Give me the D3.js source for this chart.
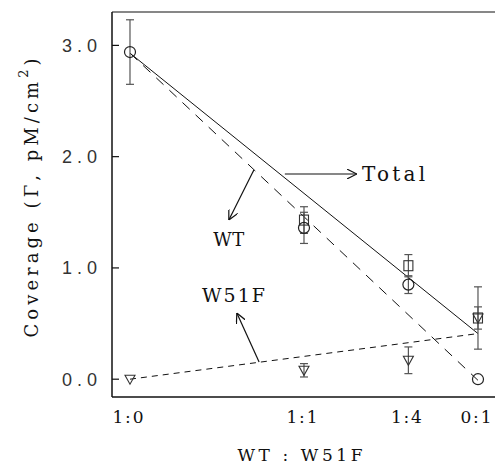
<!DOCTYPE html>
<html>
<head>
<meta charset="utf-8">
<script src="https://cdn.jsdelivr.net/npm/d3@7"></script>
<style>
  body { margin: 0; background: #fff; }
  svg { display: block; }
</style>
</head>
<body>
<div id="vis"></div>
<script>
// mixing ratios WT : W51F and the W51F fraction used for the x position
var ratios = ["1:0", "1:1", "1:4", "0:1"],
    fractions = [0, 0.5, 0.8, 1];

// measured coverage (pM/cm2) with error bars, null = not drawn
var totalVals = [null, 1.43, 1.02, 0.55],
    totalErr  = [null, 0.12, 0.10, 0.28],
    wtVals    = [2.94, 1.36, 0.85, 0.0],
    wtErr     = [0.29, 0.14, 0.08, null],
    w51fVals  = [0.0, 0.08, 0.17, 0.55],
    w51fErr   = [null, 0.06, 0.12, 0.10];

// straight fit lines, values at fraction 0 and 1
var fitX     = [0, 1],
    fitTotal = [2.93, 0.41],
    fitWT    = [2.93, -0.01],
    fitW51F  = [0.0, 0.41];

var yTicks = [0, 1, 2, 3];

var w = 495,
    h = 466,
    serif = "'DejaVu Serif', 'Liberation Serif', serif",
    sans = "'Liberation Sans', Arial, sans-serif";

var x = d3.scaleLinear().domain([-0.0517, 1.0489]).range([112, 495]),
    y = d3.scaleLinear().domain([-0.16, 3.30]).range([397, 12]);

var svg = d3.select("#vis").append("svg")
    .attr("width", w)
    .attr("height", h);

svg.append("defs").append("marker")
    .attr("id", "head")
    .attr("viewBox", "0 0 10 10")
    .attr("refX", 10).attr("refY", 5)
    .attr("markerWidth", 10).attr("markerHeight", 10)
    .attr("markerUnits", "userSpaceOnUse")
    .attr("orient", "auto")
    .append("path")
    .attr("d", "M0,0 L10,5 L0,10")
    .attr("fill", "none")
    .attr("stroke", "#111")
    .attr("stroke-width", 1.2);

// frame: left axis, bottom axis, top border
var frame = svg.append("g").attr("stroke", "#111").attr("stroke-width", 1.5);
frame.append("line").attr("x1", 112).attr("y1", y.range()[1]).attr("x2", 112).attr("y2", y.range()[0]);
frame.append("line").attr("x1", 112).attr("y1", y.range()[0]).attr("x2", x.range()[1]).attr("y2", y.range()[0]);
frame.append("line").attr("x1", 112).attr("y1", y.range()[1]).attr("x2", x.range()[1]).attr("y2", y.range()[1]).attr("stroke-width", 1.2);

svg.selectAll(".yTick")
    .data(yTicks)
    .enter().append("line")
    .attr("class", "yTick")
    .attr("x1", 112).attr("x2", 119)
    .attr("y1", function(d) { return y(d); })
    .attr("y2", function(d) { return y(d); })
    .attr("stroke", "#111").attr("stroke-width", 1.2);

svg.selectAll(".yLabel")
    .data(yTicks)
    .enter().append("text")
    .attr("class", "yLabel")
    .attr("font-family", sans)
    .attr("fill", "#333")
    .attr("x", 97)
    .attr("y", function(d) { return y(d) + 6.5; })
    .attr("text-anchor", "end")
    .attr("font-size", 18)
    .attr("textLength", 35)
    .attr("lengthAdjust", "spacing")
    .text(function(d) { return d.toFixed(1); });

svg.selectAll(".xLabel")
    .data(ratios)
    .enter().append("text")
    .attr("class", "xLabel")
    .attr("font-family", serif)
    .attr("fill", "#111")
    .attr("x", function(d, i) { return x(fractions[i]) - 2; })
    .attr("y", 423)
    .attr("text-anchor", "middle")
    .attr("font-size", 17)
    .attr("textLength", 31)
    .attr("lengthAdjust", "spacing")
    .text(String);

// axis titles
svg.append("text")
    .attr("font-family", serif)
    .attr("fill", "#111")
    .attr("x", 300).attr("y", 461)
    .attr("text-anchor", "middle")
    .attr("font-size", 17)
    .attr("textLength", 125)
    .attr("lengthAdjust", "spacing")
    .text("WT : W51F");

var yt = svg.append("text")
    .attr("font-family", serif)
    .attr("fill", "#111")
    .attr("transform", "translate(38,198) rotate(-90)")
    .attr("text-anchor", "middle")
    .attr("font-size", 18)
    .attr("textLength", 279)
    .attr("lengthAdjust", "spacing");
yt.append("tspan").text("Coverage (Γ, pM/cm");
yt.append("tspan").attr("dy", -10).attr("font-size", 13).text("2");
yt.append("tspan").attr("dy", 10).text(")");

// fit lines
var line = d3.line()
    .x(function(d) { return x(d[0]); })
    .y(function(d) { return y(d[1]); });

function pairs(vals) { return fitX.map(function(f, i) { return [f, vals[i]]; }); }

svg.append("path").attr("d", line(pairs(fitTotal)))
    .attr("fill", "none").attr("stroke", "#111").attr("stroke-width", 1);
svg.append("path").attr("d", line(pairs(fitWT)))
    .attr("fill", "none").attr("stroke", "#111").attr("stroke-width", 1)
    .attr("stroke-dasharray", "10,8");
svg.append("path").attr("d", line(pairs(fitW51F)))
    .attr("fill", "none").attr("stroke", "#111").attr("stroke-width", 1)
    .attr("stroke-dasharray", "6,5");

// error bars
function errorBars(vals, errs) {
    var pts = [];
    vals.forEach(function(v, i) {
        if (v !== null && errs[i] !== null) pts.push({ f: fractions[i], v: v, e: errs[i] });
    });
    var g = svg.append("g").attr("stroke", "#555").attr("stroke-width", 1.2);
    g.selectAll(".eb").data(pts).enter().append("line")
        .attr("x1", function(d) { return x(d.f); }).attr("x2", function(d) { return x(d.f); })
        .attr("y1", function(d) { return y(d.v - d.e); }).attr("y2", function(d) { return y(d.v + d.e); });
    [-1, 1].forEach(function(s) {
        g.selectAll(".cap").data(pts).enter().append("line")
            .attr("x1", function(d) { return x(d.f) - 4; }).attr("x2", function(d) { return x(d.f) + 4; })
            .attr("y1", function(d) { return y(d.v + s * d.e); }).attr("y2", function(d) { return y(d.v + s * d.e); });
    });
}
errorBars(totalVals, totalErr);
errorBars(wtVals, wtErr);
errorBars(w51fVals, w51fErr);

// markers
function points(vals) {
    var pts = [];
    vals.forEach(function(v, i) { if (v !== null) pts.push({ f: fractions[i], v: v }); });
    return pts;
}

svg.selectAll(".sq").data(points(totalVals)).enter().append("rect")
    .attr("x", function(d) { return x(d.f) - 4.5; })
    .attr("y", function(d) { return y(d.v) - 5; })
    .attr("width", 9).attr("height", 10)
    .attr("fill", "none").attr("stroke", "#333").attr("stroke-width", 1.1);

svg.selectAll(".circ").data(points(wtVals)).enter().append("circle")
    .attr("cx", function(d) { return x(d.f); })
    .attr("cy", function(d) { return y(d.v); })
    .attr("r", 5.5)
    .attr("fill", "none").attr("stroke", "#222").attr("stroke-width", 1.2);

svg.selectAll(".tri").data(points(w51fVals)).enter().append("path")
    .attr("transform", function(d) { return "translate(" + x(d.f) + "," + y(d.v) + ")"; })
    .attr("d", "M-5,-4 L5,-4 L0,5 Z")
    .attr("fill", "none").attr("stroke", "#333").attr("stroke-width", 1.1);

// labels with arrows
function arrow(x1, y1, x2, y2) {
    svg.append("line")
        .attr("x1", x(x1)).attr("y1", y(y1))
        .attr("x2", x(x2)).attr("y2", y(y2))
        .attr("stroke", "#111").attr("stroke-width", 1.2)
        .attr("marker-end", "url(#head)");
}
function label(txt, xv, yv, len, size) {
    svg.append("text")
        .attr("font-family", serif)
        .attr("fill", "#111")
        .attr("x", x(xv)).attr("y", y(yv))
        .attr("font-size", size)
        .attr("textLength", len)
        .attr("lengthAdjust", "spacing")
        .text(txt);
}

arrow(0.445, 1.844, 0.652, 1.844);
label("Total", 0.667, 1.78, 63, 20);

arrow(0.356, 1.88, 0.284, 1.43);
label("WT", 0.239, 1.20, 31, 18);

arrow(0.371, 0.155, 0.307, 0.595);
label("W51F", 0.207, 0.69, 63, 19);
</script>
</body>
</html>
